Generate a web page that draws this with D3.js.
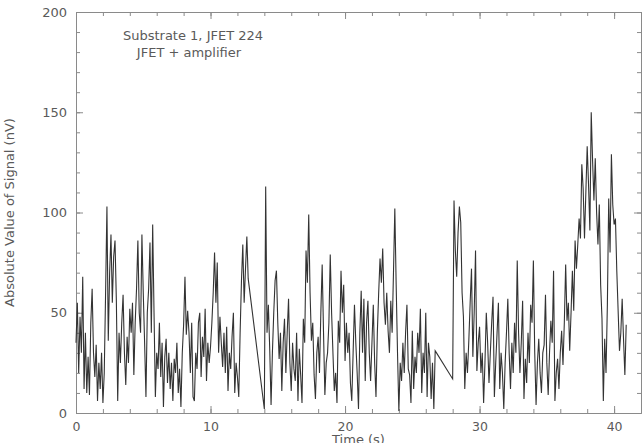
<!DOCTYPE html>
<html><head><meta charset="utf-8">
<script src="https://cdn.jsdelivr.net/npm/d3@7"></script>
<style>
html,body{margin:0;padding:0;background:#fff;}
svg{display:block;}
text{font-family:"DejaVu Sans",sans-serif;fill:#5a5a5a;}
</style></head>
<body>
<script>
// ---- data ----
const sampleStep = 0.1; // s
const segmentStarts = [0.0, 14.0, 28.0];
const segment1 = [35,55,20,48,30,68,12,40,10,28,9,45,62,30,18,34,6,25,12,30,5,20,60,103,36,70,89,55,78,86,56,6,40,25,45,59,30,14,38,25,52,40,55,19,45,62,86,50,40,89,60,35,8,50,62,85,40,94,50,8,30,22,45,18,35,3,28,37,15,30,12,25,6,27,20,35,10,22,3,30,44,68,39,51,40,20,45,8,6,30,22,45,50,18,38,28,52,16,35,25,33,45,60,80,55,75,30,48,35,23,40,20,43,11,30,22,38,50,10,25,18,8,40,66,84,55,72,88,67];
const segment2 = [2,113,40,54,32,4,30,50,66,71,45,27,40,11,35,47,20,40,57,25,11,35,22,16,40,6,32,19,5,47,35,81,65,99,60,36,45,19,7,30,38,20,50,74,40,9,25,30,45,79,50,30,11,20,5,46,35,71,50,64,26,45,30,40,15,6,30,54,35,20,2,40,61,30,57,16,45,56,30,16,35,54,25,8,40,60,77,65,82,55,44,60,41,30,56,40,70,102,64,30,1,25,16,35,20,40,54,22,19,5,41,12,28,20,40,30,52,10,30,20,50,8,35,28,7,25,2,31,30];
const segment3 = [17,106,81,68,90,103,95,60,48,12,30,20,36,55,72,28,50,81,21,35,43,20,30,5,25,50,35,15,30,45,58,8,25,40,55,12,30,20,2,25,40,57,30,12,35,20,45,30,76,40,20,35,56,7,27,15,40,25,54,45,76,30,4,25,37,20,10,30,34,59,25,9,30,46,35,71,6,20,27,12,30,41,24,45,74,46,55,31,50,71,51,86,72,84,97,87,124,112,87,110,133,114,91,150,126,106,127,100,84,104,64,47,6,37,20,54,107,80,129,104,94,97,71,51,31,40,57,37,19,44];
const segments = [segment1, segment2, segment3];
const xMajorTicks = [0,10,20,30,40];
const yMajorTicks = [0,50,100,150,200];
const xTitle = "Time (s)";
const yTitle = "Absolute Value of Signal (nV)";
const notes = ["Substrate 1, JFET 224", "JFET + amplifier"];

// build points
const points = [];
segments.forEach((seg, k) => {
  seg.forEach((v, i) => points.push({t: segmentStarts[k] + i * sampleStep, v}));
});

const W = 644, H = 443;
const svg = d3.select("body").append("svg").attr("width", W).attr("height", H);
const x = d3.scaleLinear().domain([0, 42]).range([76, 641]);
const y = d3.scaleLinear().domain([0, 200]).range([413, 12]);

const axisColor = "#8a8a8a";
function styleAxis(g){
  g.select(".domain").attr("stroke", axisColor).attr("stroke-width", 1);
  g.selectAll(".tick line").attr("stroke", axisColor).attr("stroke-width", 1);
}
const xMinor = d3.range(0, 43, 2);
const yMinor = d3.range(0, 201, 10);

// bottom
svg.append("g").attr("transform", `translate(0,${y(0)})`)
  .call(d3.axisBottom(x).tickValues(xMinor).tickSize(-4).tickSizeOuter(0).tickFormat(""))
  .call(styleAxis);
svg.append("g").attr("transform", `translate(0,${y(0)})`)
  .call(d3.axisBottom(x).tickValues(xMajorTicks).tickSize(-7).tickSizeOuter(0).tickPadding(9).tickFormat(d3.format("d")))
  .call(styleAxis)
  .call(g => g.selectAll("text").attr("font-size", 12.5).attr("fill", "#5a5a5a").style("font-family", "DejaVu Sans"));
// top
svg.append("g").attr("transform", `translate(0,${y(200)})`)
  .call(d3.axisTop(x).tickValues(xMinor).tickSize(-4).tickSizeOuter(0).tickFormat(""))
  .call(styleAxis);
svg.append("g").attr("transform", `translate(0,${y(200)})`)
  .call(d3.axisTop(x).tickValues(xMajorTicks).tickSize(-7).tickSizeOuter(0).tickFormat(""))
  .call(styleAxis);
// left
svg.append("g").attr("transform", `translate(${x(0)},0)`)
  .call(d3.axisLeft(y).tickValues(yMinor).tickSize(-4).tickSizeOuter(0).tickFormat(""))
  .call(styleAxis);
svg.append("g").attr("transform", `translate(${x(0)},0)`)
  .call(d3.axisLeft(y).tickValues(yMajorTicks).tickSize(-7).tickSizeOuter(0).tickPadding(9).tickFormat(d3.format("d")))
  .call(styleAxis)
  .call(g => g.selectAll("text").attr("font-size", 13).attr("fill", "#5a5a5a").style("font-family", "DejaVu Sans"));
// right
svg.append("g").attr("transform", `translate(${x(42)},0)`)
  .call(d3.axisRight(y).tickValues(yMinor).tickSize(-4).tickSizeOuter(0).tickFormat(""))
  .call(styleAxis);
svg.append("g").attr("transform", `translate(${x(42)},0)`)
  .call(d3.axisRight(y).tickValues(yMajorTicks).tickSize(-7).tickSizeOuter(0).tickFormat(""))
  .call(styleAxis);

// data line
const line = d3.line().x(d => x(d.t)).y(d => y(d.v));
svg.append("path").datum(points)
  .attr("d", line)
  .attr("fill", "none")
  .attr("stroke", "#333")
  .attr("stroke-width", 1.1)
  .attr("stroke-linejoin", "miter");

// titles
svg.append("text").attr("x", (x(0)+x(42))/2).attr("y", 443.5)
  .attr("text-anchor", "middle").attr("font-size", 13).text(xTitle);
svg.append("text").attr("transform", `translate(14,${(y(0)+y(200))/2}) rotate(-90)`)
  .attr("text-anchor", "middle").attr("font-size", 13).text(yTitle);

// annotations
svg.append("text").attr("x", 193).attr("y", 40).attr("text-anchor", "middle")
  .attr("font-size", 13).text(notes[0]);
svg.append("text").attr("x", 189).attr("y", 57).attr("text-anchor", "middle")
  .attr("font-size", 13).text(notes[1]);
</script>
</body></html>
